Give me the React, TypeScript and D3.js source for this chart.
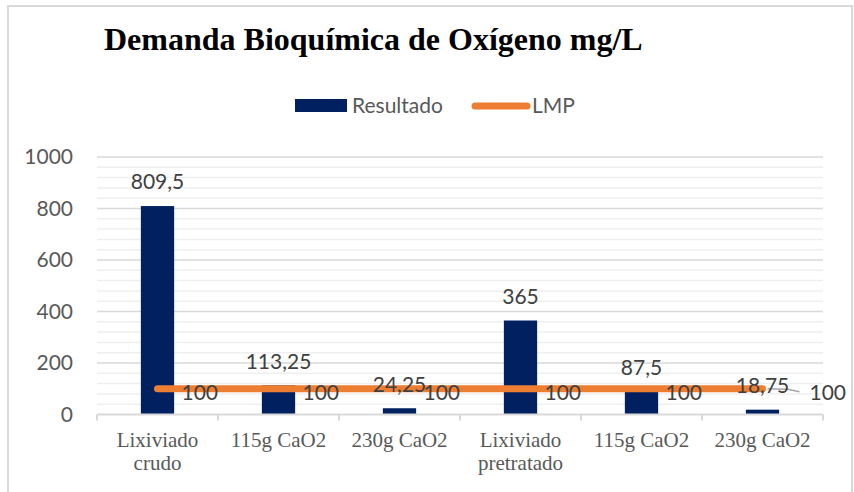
import React from "react";
import * as d3 from "d3";

const categories: string[][] = [
  ["Lixiviado", "crudo"],
  ["115g CaO2"],
  ["230g CaO2"],
  ["Lixiviado", "pretratado"],
  ["115g CaO2"],
  ["230g CaO2"],
];
const resultado: number[] = [809.5, 113.25, 24.25, 365, 87.5, 18.75];
const lmp: number[] = [100, 100, 100, 100, 100, 100];
const yTicks: number[] = [0, 200, 400, 600, 800, 1000];
const minorTicks: number[] = d3.range(0, 1001, 40);

const W = 854;
const H = 492;
const left = 97;
const right = 823;
const top = 157;
const bottom = 414.5;

const fmt = (v: number) => String(v).replace(".", ",");

export default function App() {
  const x = d3
    .scaleBand<number>()
    .domain(d3.range(categories.length))
    .range([left, right])
    .paddingInner(0)
    .paddingOuter(0);
  const y = d3.scaleLinear().domain([0, 1000]).range([bottom, top]);
  const bw = x.bandwidth() * 0.275;
  const cx = (i: number) => (x(i) as number) + x.bandwidth() / 2;
  const line = d3
    .line<number>()
    .x((_, i) => cx(i))
    .y((d) => y(d));
  const sans = "Lato, 'Open Sans', sans-serif";
  const serif = "'Liberation Serif', 'Times New Roman', serif";
  const n = categories.length;

  return (
    <svg
      width={W}
      height={H}
      style={{ position: "absolute", left: 0, top: 0, background: "#fff" }}
    >
      <rect x={8} y={6} width={844} height={500} fill="#fff" stroke="#d9d9d9" strokeWidth={2} />
      <text
        x={104}
        y={50}
        fontFamily={serif}
        fontWeight="bold"
        fontSize={32}
        fill="#000"
      >
        Demanda Bioquímica de Oxígeno mg/L
      </text>

      {/* legend */}
      <rect x={295} y={99} width={52} height={13} fill="#002060" />
      <text x={352} y={113} fontFamily={sans} fontSize={21} fill="#595959">
        Resultado
      </text>
      <line x1={475} x2={527} y1={106} y2={106} stroke="#ED7D31" strokeWidth={7} strokeLinecap="round" />
      <text x={532} y={113} fontFamily={sans} fontSize={21} fill="#595959">
        LMP
      </text>

      {/* minor grid */}
      {minorTicks
        .filter((t) => t % 200 !== 0)
        .map((t) => (
          <line key={"m" + t} x1={left} x2={right} y1={y(t)} y2={y(t)} stroke="#efefef" strokeWidth={1.5} />
        ))}
      {yTicks.map((t) => (
        <g key={"g" + t}>
          {t !== 0 && (
            <line x1={left} x2={right} y1={y(t)} y2={y(t)} stroke="#d9d9d9" strokeWidth={1.5} />
          )}
          <text
            x={73}
            y={y(t)}
            dy="0.35em"
            textAnchor="end"
            fontFamily={sans}
            fontSize={21}
            fill="#595959"
          >
            {t}
          </text>
        </g>
      ))}

      {/* bars */}
      {resultado.map((v, i) => (
        <rect key={"b" + i} x={cx(i) - bw / 2} y={y(v)} width={bw} height={y(0) - y(v)} fill="#002060" />
      ))}

      {/* axis */}
      <line x1={left} x2={right} y1={y(0)} y2={y(0)} stroke="#d9d9d9" strokeWidth={2} />
      {d3.range(n + 1).map((i) => {
        const xx = i < n ? (x(i) as number) : right;
        return <line key={"t" + i} x1={xx} x2={xx} y1={y(0)} y2={y(0) + 6} stroke="#d9d9d9" strokeWidth={2} />;
      })}
      {categories.map((lines, i) => (
        <text key={"c" + i} x={cx(i)} y={447} textAnchor="middle" fontFamily={serif} fontSize={21} fill="#595959">
          {lines.map((l, j) => (
            <tspan key={j} x={cx(i)} dy={j === 0 ? 0 : 23}>
              {l}
            </tspan>
          ))}
        </text>
      ))}

      {/* LMP line */}
      <path d={line(lmp) as string} fill="none" stroke="#ED7D31" strokeWidth={7} strokeLinecap="round" />

      {/* leader line for last LMP label */}
      <polyline
        points={`${cx(n - 1) + 5},${y(lmp[n - 1])} ${cx(n - 1) + 25},${y(lmp[n - 1]) + 0.5} ${cx(n - 1) + 37},${y(lmp[n - 1]) + 3}`}
        fill="none"
        stroke="#a6a6a6"
        strokeWidth={1.5}
      />

      {/* bar labels */}
      {resultado.map((v, i) => (
        <text
          key={"bl" + i}
          x={cx(i)}
          y={y(v) - 24}
          dy="0.35em"
          textAnchor="middle"
          fontFamily={sans}
          fontSize={21}
          fill="#404040"
        >
          {fmt(v)}
        </text>
      ))}

      {/* LMP labels */}
      {lmp.map((v, i) => (
        <text
          key={"ll" + i}
          x={i === n - 1 ? cx(i) + 47 : cx(i) + 24}
          y={y(v) + 3.5}
          dy="0.35em"
          textAnchor="start"
          fontFamily={sans}
          fontSize={21}
          fill="#404040"
        >
          {fmt(v)}
        </text>
      ))}
    </svg>
  );
}
